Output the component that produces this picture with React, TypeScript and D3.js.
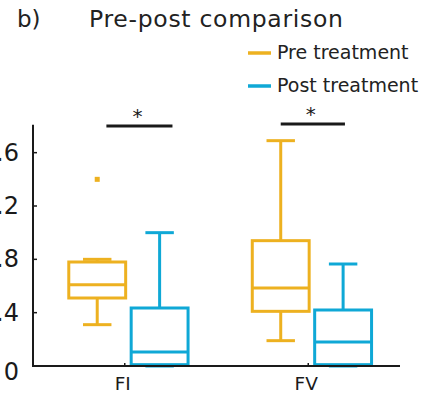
import { useMemo } from "react";
import * as d3 from "d3";

// categories + groups
const categories = ["FI", "FV"];
const groups = ["Pre treatment", "Post treatment"];
const groupColors = ["#EDB120", "#0FA8D6"];

// box stats per group, per category: [lowWhisker, q1, median, q3, highWhisker]
const preStats = [
  [0.31, 0.51, 0.61, 0.78, 0.8],
  [0.19, 0.41, 0.585, 0.94, 1.69],
];
const postStats = [
  [0.0, 0.01, 0.105, 0.435, 1.0],
  [0.0, 0.01, 0.18, 0.42, 0.765],
];
const preOutliers = [[1.4], []];
const postOutliers = [[], []];

// significance bars: [from, to, height] in axis units
const sigBars = [
  [0.9, 1.26, 1.8],
  [1.85, 2.2, 1.815],
];

const yTicks = [0, 0.4, 0.8, 1.2, 1.6];
const yTickLabels = ["0", "0.4", "0.8", "1.2", "1.6"];

const W = 438;
const H = 398;
const FONT = "'DejaVu Sans', sans-serif";

export default function App() {
  const x = useMemo(() => d3.scaleLinear().domain([0.5, 2.5]).range([33, 400]), []);
  const y = useMemo(() => d3.scaleLinear().domain([0, 1.8]).range([366, 126]), []);

  const offsets = [-0.15, 0.19]; // pre / post shift from category tick
  const boxW = 0.31;
  const allStats = [preStats, postStats];
  const allOutliers = [preOutliers, postOutliers];

  const bw = x(boxW) - x(0);
  const capW = bw / 2;

  return (
    <svg
      width={W}
      height={H}
      style={{ position: "absolute", left: 0, top: 0, background: "#fff" }}
      fontFamily={FONT}
    >
      {/* title */}
      <text x={17} y={27} fontSize={23} fill="#222">b)</text>
      <text x={89} y={27} fontSize={23.5} fill="#222" textLength={254} lengthAdjust="spacing">
        Pre-post comparison
      </text>

      {/* legend */}
      {groups.map((g, i) => (
        <g key={g} transform={`translate(0,${53 + i * 33})`}>
          <line x1={248} x2={271} y1={0} y2={0} stroke={groupColors[i]} strokeWidth={3.5} />
          <text x={277} y={6} fontSize={19} fill="#222">{g}</text>
        </g>
      ))}

      {/* boxes */}
      {categories.map((c, ci) =>
        allStats.map((stats, gi) => {
          const [lo, q1, med, q3, hi] = stats[ci];
          const cx = x(ci + 1 + offsets[gi]);
          const col = groupColors[gi];
          return (
            <g key={c + gi} stroke={col} strokeWidth={3} fill="none">
              <line x1={cx} x2={cx} y1={y(hi)} y2={y(q3)} />
              <line x1={cx} x2={cx} y1={y(q1)} y2={y(lo)} />
              <line x1={cx - capW / 2} x2={cx + capW / 2} y1={y(hi)} y2={y(hi)} />
              <line x1={cx - capW / 2} x2={cx + capW / 2} y1={y(lo)} y2={y(lo)} />
              <rect x={cx - bw / 2} y={y(q3)} width={bw} height={y(q1) - y(q3)} />
              <line x1={cx - bw / 2} x2={cx + bw / 2} y1={y(med)} y2={y(med)} />
              {allOutliers[gi][ci].map((o, k) => (
                <rect key={k} x={cx - 2.5} y={y(o) - 2.5} width={5} height={5} fill={col} stroke="none" />
              ))}
            </g>
          );
        })
      )}

      {/* axes */}
      <g stroke="#1a1a1a" strokeWidth={2}>
        <line x1={x(0.5)} x2={x(0.5)} y1={y(1.81)} y2={y(0) + 1} />
        <line x1={x(0.5)} x2={x(2.5)} y1={y(0)} y2={y(0)} />
        {yTicks.map((t) => (
          <line key={t} x1={x(0.5)} x2={x(0.5) + 4} y1={y(t)} y2={y(t)} strokeWidth={1.5} />
        ))}
        {categories.map((c, i) => (
          <line key={c} x1={x(i + 1)} x2={x(i + 1)} y1={y(0)} y2={y(0) - 3} strokeWidth={1.5} />
        ))}
      </g>
      {yTicks.map((t, i) => (
        <text
          key={t}
          x={19}
          y={y(t) + (t === 0 ? 6 : 0)}
          fontSize={24}
          textAnchor="end"
          dominantBaseline="central"
          fill="#1a1a1a"
        >
          {yTickLabels[i]}
        </text>
      ))}
      {categories.map((c, i) => (
        <text key={c} x={x(i + 1) - 2} y={390} fontSize={18.5} textAnchor="middle" fill="#1a1a1a">
          {c}
        </text>
      ))}

      {/* significance */}
      {sigBars.map(([a, b, h], i) => (
        <g key={i}>
          <line x1={x(a)} x2={x(b)} y1={y(h)} y2={y(h)} stroke="#1a1a1a" strokeWidth={3} />
          <text x={(x(a) + x(b)) / 2 - 2} y={y(h) - 3} fontSize={20} textAnchor="middle" fill="#1a1a1a">
            *
          </text>
        </g>
      ))}
    </svg>
  );
}
